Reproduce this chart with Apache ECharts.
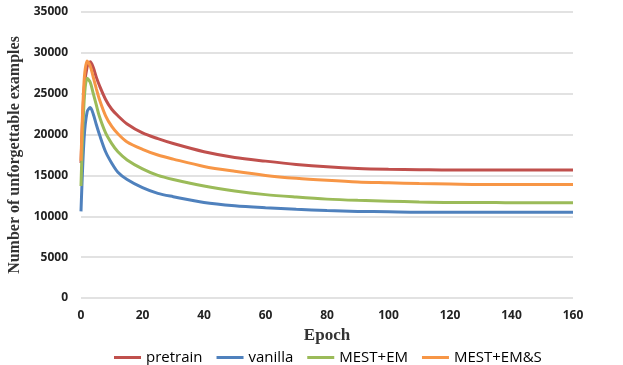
<!DOCTYPE html>
<html>
<head>
<meta charset="utf-8">
<script src="https://cdn.jsdelivr.net/npm/echarts@6/dist/echarts.min.js"></script>
<style>
  html, body { margin: 0; padding: 0; background: #fff; }
  #chart { width: 623px; height: 365px; }
</style>
</head>
<body>
<div id="chart"></div>
<script>
var epochs = [0, 1, 2, 3, 4, 5, 6, 8, 10, 12, 15, 20, 25, 30, 40, 50, 60, 70, 80, 90, 100, 110, 120, 130, 140, 150, 160];

var pretrain = [16500, 25500, 28300, 28900, 28200, 27000, 26000, 24300, 23100, 22300, 21300, 20200, 19500, 18900, 17900, 17200, 16750, 16350, 16050, 15850, 15750, 15700, 15650, 15650, 15650, 15650, 15650];
var vanilla = [10600, 19500, 22800, 23300, 22500, 21200, 20000, 17900, 16500, 15400, 14500, 13500, 12800, 12400, 11700, 11300, 11050, 10850, 10700, 10600, 10550, 10500, 10500, 10500, 10500, 10500, 10500];
var mestEm = [13700, 24000, 26900, 26400, 25000, 23600, 22200, 20200, 18900, 17900, 16900, 15800, 15000, 14500, 13700, 13100, 12650, 12350, 12100, 11950, 11850, 11750, 11700, 11700, 11650, 11650, 11650];
var mestEmS = [16800, 26500, 29000, 28400, 27000, 25600, 24300, 22300, 21000, 20100, 19100, 18200, 17500, 17000, 16100, 15500, 15000, 14650, 14400, 14200, 14100, 14000, 13950, 13900, 13900, 13900, 13900];

var seriesNames = ['pretrain', 'vanilla', 'MEST+EM', 'MEST+EM&S'];
var seriesColors = ['#C0504D', '#4F81BD', '#9BBB59', '#F79646'];
var xTicks = [0, 20, 40, 60, 80, 100, 120, 140, 160];
var yTicks = [0, 5000, 10000, 15000, 20000, 25000, 30000, 35000];

function pairs(vals) {
  return epochs.map(function (e, i) { return [e, vals[i]]; });
}

var allVals = [pretrain, vanilla, mestEm, mestEmS];
var series = seriesNames.map(function (name, i) {
  return {
    name: name,
    type: 'line',
    smooth: 0.3,
    symbol: 'none',
    lineStyle: { width: 3, color: seriesColors[i] },
    itemStyle: { color: seriesColors[i] },
    data: pairs(allVals[i])
  };
});

var drawCharts = echarts.init(document.getElementById('chart'));
var option = {
  animation: false,
  grid: { left: 81, right: 50, top: 12, bottom: 67, containLabel: false, outerBoundsMode: 'none' },
  legend: {
    top: 345,
    left: 109,
    icon: 'rect',
    itemWidth: 27,
    itemHeight: 3,
    itemGap: 14,
    textStyle: { fontFamily: 'Open Sans', fontSize: 15, color: '#000' },
    data: seriesNames
  },
  xAxis: {
    type: 'value',
    min: xTicks[0],
    max: xTicks[xTicks.length - 1],
    interval: 20,
    name: 'Epoch',
    nameLocation: 'middle',
    nameGap: 29,
    nameTextStyle: { fontFamily: 'Liberation Serif', fontWeight: 'bold', fontSize: 17, color: '#333' },
    axisLine: { show: false },
    axisTick: { show: false },
    splitLine: { show: false },
    axisLabel: { fontFamily: 'Open Sans', fontWeight: 'bold', fontSize: 12, color: '#222', margin: 12,
      formatter: function (v) { return String(v); } }
  },
  yAxis: {
    type: 'value',
    min: yTicks[0],
    max: yTicks[yTicks.length - 1],
    interval: 5000,
    name: 'Number of unforgettable examples',
    nameLocation: 'middle',
    nameGap: 57,
    nameTextStyle: { fontFamily: 'Liberation Serif', fontWeight: 'bold', fontSize: 16, color: '#333' },
    axisLine: { show: false },
    axisTick: { show: false },
    splitLine: { lineStyle: { color: '#d9d9d9', width: 1.5 } },
    axisLabel: { fontFamily: 'Open Sans', fontWeight: 'bold', fontSize: 12, color: '#222', margin: 13,
      formatter: function (v) { return String(v); } }
  },
  series: series
};
drawCharts.setOption(option);
</script>
</body>
</html>
